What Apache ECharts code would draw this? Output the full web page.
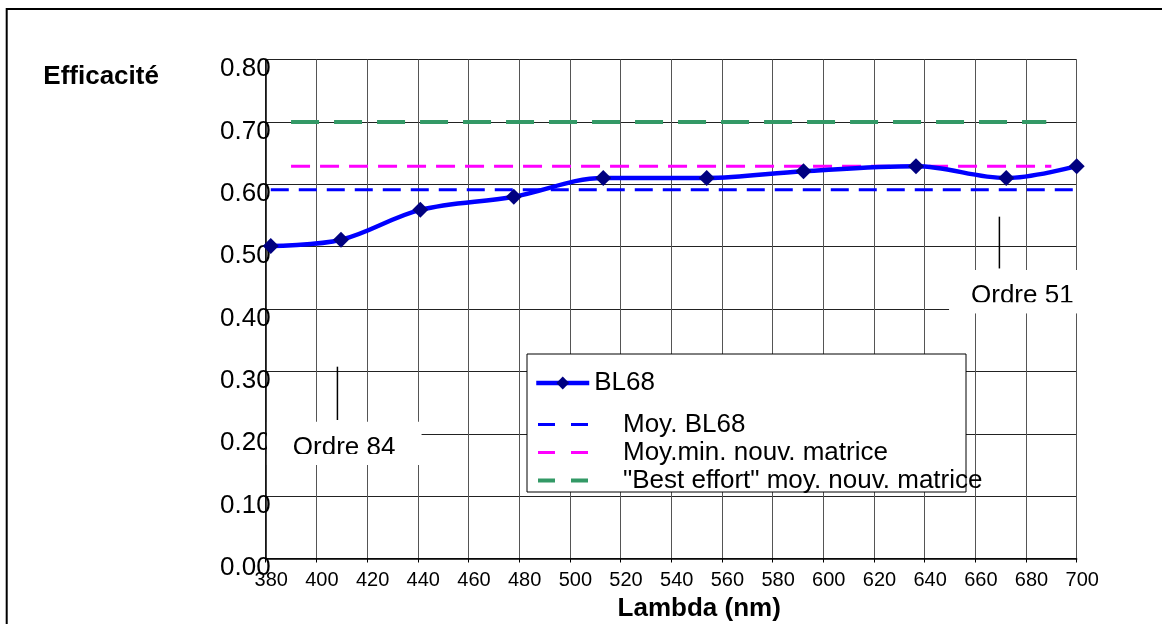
<!DOCTYPE html>
<html><head><meta charset="utf-8">
<script src="https://cdn.jsdelivr.net/npm/echarts@6/dist/echarts.min.js"></script>
<style>html,body{margin:0;padding:0;background:#fff}#c{width:1162px;height:624px}</style>
</head><body><div id="c"></div>
<script>
// ---- data ----
const wavelengths = [382, 409.7, 441, 477.9, 513.2, 554, 592.2, 636.6, 672.2, 700];
const efficiency  = [0.501, 0.511, 0.559, 0.580, 0.610, 0.610, 0.621, 0.629, 0.610, 0.629];
const moyBL68Range = [382, 700];
const moyBL68Value = 0.591;
const moyMinRange = [390, 690];
const moyMinValue = 0.629;
const bestRange = [390, 688];
const bestValue = 0.700;
const seriesNames = ['BL68', 'Moy. BL68', 'Moy.min. nouv. matrice', '"Best effort" moy. nouv. matrice'];
const xTickMin = 380, xTickMax = 700, xTickStep = 20;
const yTickMin = 0, yTickMax = 0.8, yTickStep = 0.1;

const FONT = 'Arial, "Liberation Sans", sans-serif';
const chart = echarts.init(document.getElementById('c'), null, {renderer: 'canvas'});

const colors = ['#0000ff', '#0000ff', '#ff00ff', '#339966'];
const dashes = [null, [18, 10], [19, 10], [28, 15]];
const widths = [4.5, 3, 3, 4];

chart.setOption({
  animation: false,
  backgroundColor: '#fff',
  grid: {left: 265.7, right: 85.3, top: 59.5, bottom: 65.5, containLabel: false, outerBoundsMode: 'none'},
  xAxis: {
    type: 'value', min: xTickMin, max: xTickMax, interval: xTickStep,
    axisLine: {show: true, onZero: false, lineStyle: {color: '#000', width: 1.5}},
    axisTick: {show: true, length: 4, lineStyle: {color: '#000'}},
    axisLabel: {fontSize: 20, color: '#000', fontFamily: FONT, margin: 12, padding: [0, 0, 0, 11]},
    splitLine: {show: true, lineStyle: {color: '#555', width: 1}},
    name: 'Lambda (nm)', nameLocation: 'middle', nameGap: 36,
    nameTextStyle: {fontSize: 26, fontWeight: 'bold', color: '#000', fontFamily: FONT, padding: [0, 0, 0, 56]}
  },
  yAxis: {
    type: 'value', min: yTickMin, max: yTickMax, interval: yTickStep,
    axisLine: {show: true, onZero: false, lineStyle: {color: '#000', width: 1.5}},
    axisTick: {show: false},
    axisLabel: {fontSize: 26, color: '#000', fontFamily: FONT, margin: -5,
      verticalAlign: 'top', lineHeight: 19,
      formatter: v => v.toFixed(2)},
    splitLine: {show: true, lineStyle: {color: '#222', width: 1}}
  },
  legend: [
    {
      data: [{name: seriesNames[0], lineStyle: {width: 4.5, color: colors[0]}}],
      orient: 'vertical', left: 534, top: 369, padding: 0,
      itemWidth: 53, itemHeight: 16, z: 60, selectedMode: false,
      textStyle: {fontSize: 26, color: '#000', fontFamily: FONT, lineHeight: 28}
    },
    {
      data: seriesNames.slice(1).map((n, i) => ({
        name: n,
        itemStyle: {opacity: 0},
        lineStyle: {width: widths[i + 1], color: colors[i + 1], type: [17, 16]}
      })),
      orient: 'vertical', left: 536, top: 410.5, padding: 0, itemGap: 0,
      itemWidth: 52, itemHeight: 14, z: 60, selectedMode: false,
      textStyle: {fontSize: 26, color: '#000', fontFamily: FONT, lineHeight: 28, padding: [0, 0, 0, 28]}
    }
  ],
  series: [
    {
      name: seriesNames[0], type: 'line', smooth: 0.35, z: 5,
      data: wavelengths.map((w, i) => [w, efficiency[i]]),
      symbol: 'diamond', symbolSize: [16, 16],
      lineStyle: {color: colors[0], width: widths[0]},
      itemStyle: {color: '#000080'}
    },
    {
      name: seriesNames[1], type: 'line', symbol: 'none', z: 4,
      data: moyBL68Range.map(x => [x, moyBL68Value]),
      lineStyle: {color: colors[1], width: widths[1], type: dashes[1]}, itemStyle: {color: colors[1]}
    },
    {
      name: seriesNames[2], type: 'line', symbol: 'none', z: 4,
      data: moyMinRange.map(x => [x, moyMinValue]),
      lineStyle: {color: colors[2], width: widths[2], type: dashes[2]}, itemStyle: {color: colors[2]}
    },
    {
      name: seriesNames[3], type: 'line', symbol: 'none', z: 4,
      data: bestRange.map(x => [x, bestValue]),
      lineStyle: {color: colors[3], width: widths[3], type: dashes[3]}, itemStyle: {color: colors[3]}
    }
  ]
});

// ---- annotations (in data coordinates) ----
const annotations = [
  {text: 'Ordre 84', lineX: 408.3, lineY: [0.3075, 0.222], box: [380.5, 441.5, 0.2193, 0.150], textX: 390.7, textY: 0.1778, clipY: 0.1675},
  {text: 'Ordre 51', lineX: 669.5, lineY: [0.548, 0.465], box: [649.7, 702.4, 0.4625, 0.3931], textX: 658.3, textY: 0.4208, clipY: 0.4107}
];
function px(x, y) { return chart.convertToPixel({gridIndex: 0}, [x, y]); }

const g = [];
g.push({type: 'rect', shape: {x: 6.7, y: 9, width: 1200, height: 700}, style: {fill: 'none', stroke: '#000', lineWidth: 2}, z: 100, silent: true});
g.push({type: 'text', x: 43.3, y: 77, style: {text: 'Efficacité', font: 'bold 26px ' + FONT, fill: '#000', verticalAlign: 'middle', align: 'left'}, z: 100});
g.push({type: 'rect', shape: {x: 527, y: 354, width: 439, height: 138}, style: {fill: '#fff', stroke: '#000', lineWidth: 1}, z: 50, silent: true});

annotations.forEach(a => {
  const l1 = px(a.lineX, a.lineY[0]), l2 = px(a.lineX, a.lineY[1]);
  g.push({type: 'line', shape: {x1: l1[0], y1: l1[1], x2: l2[0], y2: l2[1]}, style: {stroke: '#000', lineWidth: 1.5}, z: 50});
  const b1 = px(a.box[0], a.box[2]), b2 = px(a.box[1], a.box[3]);
  g.push({type: 'rect', shape: {x: b1[0], y: b1[1], width: b2[0] - b1[0], height: b2[1] - b1[1]}, style: {fill: '#fff'}, z: 50, silent: true});
  const t = px(a.textX, a.textY);
  g.push({type: 'text', x: t[0], y: t[1], style: {text: a.text, font: '26px ' + FONT, fill: '#000', verticalAlign: 'middle', align: 'left'}, z: 51});
  const c = px(a.box[0], a.clipY);
  g.push({type: 'rect', shape: {x: b1[0], y: c[1], width: b2[0] - b1[0], height: b2[1] - c[1]}, style: {fill: '#fff'}, z: 52, silent: true});
});
chart.setOption({graphic: g});
</script>
</body></html>
